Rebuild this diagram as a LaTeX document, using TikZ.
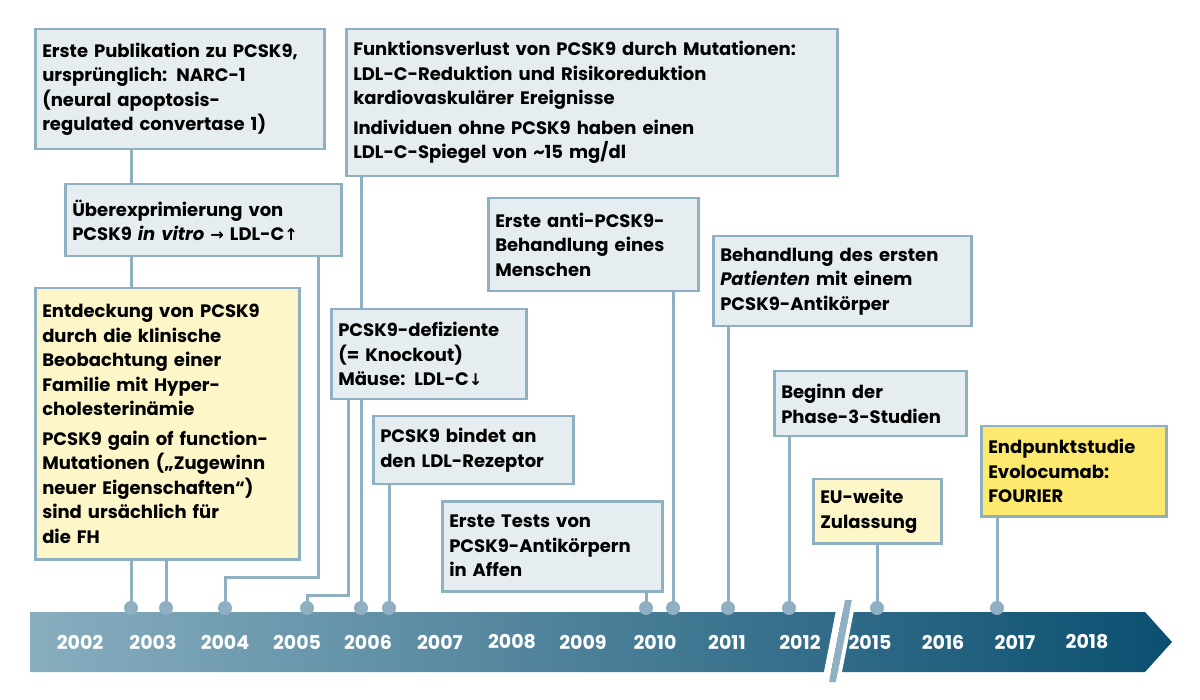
\documentclass[tikz,border=0pt]{standalone}
\usepackage{fontspec}
\setmainfont{Poppins}[UprightFont=* Bold,ItalicFont=* Bold Italic,BoldFont=* Bold]
\newfontfamily\symf{DejaVu Sans Bold}[Scale=0.9]
\definecolor{boxc}{HTML}{E5EDF0}
\definecolor{bordc}{HTML}{8FB0C2}
\definecolor{ylw}{HTML}{FDF6C8}
\definecolor{ylw2}{HTML}{FCE96E}
\definecolor{barl}{HTML}{88AEBF}
\definecolor{barr}{HTML}{0B4F70}
\tikzset{
 box/.style={draw=bordc,line width=2.5pt,fill=boxc,anchor=north west,align=left,inner sep=0pt,
   font=\fontsize{18}{24.5}\selectfont},
 conn/.style={draw=bordc,line width=3pt},
 dotc/.style={circle,fill=bordc,inner sep=0pt,minimum size=14pt},
 yr/.style={text=white,font=\fontsize{19}{20}\selectfont}
}
\newcommand{\bx}[7]{\node[box,fill=#6,minimum width=#4pt,minimum height=#5pt,text width=#4pt-14pt] (#1) at (#2,#3) {#7};}
\begin{document}
\begin{tikzpicture}[x=1pt,y=-1pt]
\useasboundingbox (0,0) rectangle (1200,700);
% bar
\shade[left color=barl,right color=barr] (30,612) -- (1145,612) -- (1172,642) -- (1145,672) -- (30,672) -- cycle;
\fill[white] (838,600) -- (845,600) -- (829,682) -- (822,682) -- cycle;
\fill[bordc] (845,600) -- (852,600) -- (836,682) -- (829,682) -- cycle;
\fill[white] (852,600) -- (856,600) -- (840,682) -- (836,682) -- cycle;
\foreach \y/\x in {2002/80,2003/153,2004/225,2005/297,2006/368,2007/440,2008/512,2009/583,2010/655,2011/727,2012/800,2015/870,2016/943,2017/1015,2018/1087}
  \node[yr] (y\y) at (\x,642) {\y};
% dots
\foreach \n/\x in {a/131,b/166,c/225,d/307,e/361,f/389,g/646,h/673,i/728,j/789,k/877,l/997}
  \coordinate (d\n) at (\x,608);
% boxes
\bx{b1}{34}{28}{289}{120}{boxc}{Erste Publikation zu PCSK9,\\ursprünglich: NARC-1\\(neural apoptosis-\\regulated convertase 1)}
\bx{b2}{64}{183}{276}{72}{boxc}{Überexprimierung von\\PCSK9 \textit{in vitro} {\symf →} LDL-C{\symf ↑}}
\bx{b3}{34}{287}{264}{271}{ylw}{Entdeckung von PCSK9\\durch die klinische\\Beobachtung einer\\Familie mit Hyper-\\cholesterinämie\\[5pt]PCSK9 gain of function-\\Mutationen („Zugewinn\\neuer Eigenschaften“)\\sind ursächlich für\\die FH}
\bx{b4}{345}{28}{491}{147}{boxc}{Funktionsverlust von PCSK9 durch Mutationen:\\LDL-C-Reduktion und Risikoreduktion\\kardiovaskulärer Ereignisse\\[5pt]Individuen ohne PCSK9 haben einen\\LDL-C-Spiegel von \textasciitilde15 mg/dl}
\bx{b5}{330}{308}{195}{90}{boxc}{PCSK9-defiziente\\(= Knockout)\\Mäuse: LDL-C{\symf ↓}}
\bx{b6}{372}{415}{200}{68}{boxc}{PCSK9 bindet an\\den LDL-Rezeptor}
\bx{b7}{441}{500}{220}{90}{boxc}{Erste Tests von\\PCSK9-Antikörpern\\in Affen}
\bx{b8}{487}{197}{210}{93}{boxc}{Erste anti-PCSK9-\\Behandlung eines\\Menschen}
\bx{b9}{712}{235}{258}{90}{boxc}{Behandlung des ersten\\\textit{Patienten} mit einem\\PCSK9-Antikörper}
\bx{b10}{773}{370}{192}{65}{boxc}{Beginn der\\Phase-3-Studien}
\bx{b11}{812}{478}{128}{64}{ylw}{EU-weite\\Zulassung}
\bx{b12}{980}{425}{185}{90}{ylw2}{Endpunktstudie\\Evolocumab:\\FOURIER}
% connectors
\draw[conn] (b1.south -| da) -- (b2.north -| da);
\draw[conn] (b2.south -| da) -- (b3.north -| da);
\draw[conn] (b3.south -| da) -- (da);
\draw[conn] (b3.south -| db) -- (db);
\draw[conn] (b2.south -| 318,0) -- (318,577) -- (225,577) -- (dc);
\draw[conn] (b5.south -| 348,0) -- (348,595) -- (307,595) -- (dd);
\draw[conn] (b4.south -| de) -- (b5.north -| de);
\draw[conn] (b5.south -| de) -- (de);
\draw[conn] (b6.south -| df) -- (df);
\draw[conn] (b7.south -| dg) -- (dg);
\draw[conn] (b8.south -| dh) -- (dh);
\draw[conn] (b9.south -| di) -- (di);
\draw[conn] (b10.south -| dj) -- (dj);
\draw[conn] (b11.south -| dk) -- (dk);
\draw[conn] (b12.south -| dl) -- (dl);
\foreach \n in {a,b,c,d,e,f,g,h,i,j,k,l} \node[dotc] at (d\n) {};
\end{tikzpicture}
\end{document}
